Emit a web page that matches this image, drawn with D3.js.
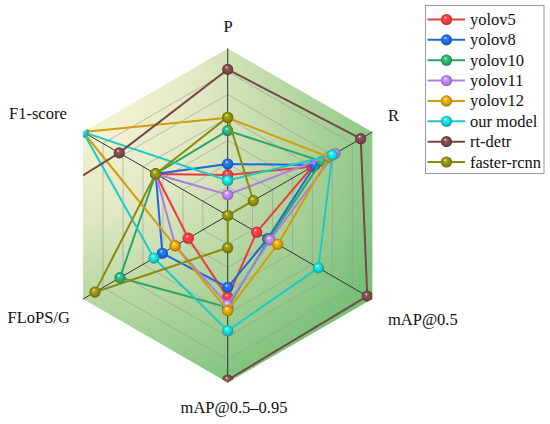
<!DOCTYPE html>
<html>
<head>
<meta charset="utf-8">
<script src="https://cdn.jsdelivr.net/npm/d3@7"></script>
<style>
  html, body { margin: 0; padding: 0; background: #fff; }
  svg { display: block; }
  text { font-family: "Liberation Serif", "Times New Roman", serif; fill: #111; }
</style>
</head>
<body>
<svg id="chart" width="550" height="424"></svg>
<script>
// ---- data (normalized to the radar's outer ring) ----
const axes = ["P", "R", "mAP@0.5", "mAP@0.5\u20130.95", "FLoPS/G", "F1-score"];
const seriesNames = ["yolov5", "yolov8", "yolov10", "yolov11", "yolov12", "our model", "rt-detr", "faster-rcnn"];
const yolov5     = [0.243, 0.585, 0.200, 0.490, 0.272, 0.498];
const yolov8     = [0.308, 0.604, 0.277, 0.430, 0.452, 0.498];
const yolov10    = [0.508, 0.650, 0.285, 0.550, 0.745, 0.498];
const yolov11    = [0.124, 0.742, 0.293, 0.535, 0.362, 0.498];
const yolov12    = [0.585, 0.700, 0.346, 0.570, 0.364, 1.000];
const ourModel   = [0.210, 0.723, 0.627, 0.690, 0.510, 1.000];
const rtDetr     = [0.875, 0.920, 0.965, 0.985, 20.0, 0.750];
const fasterRcnn = [0.588, 0.177, 0.000, 0.193, 0.918, 0.498];
const seriesValues = [yolov5, yolov8, yolov10, yolov11, yolov12, ourModel, rtDetr, fasterRcnn];
const colors = ["#ec3a3d", "#2166dc", "#2ba66a", "#b07ee3", "#d49b0c", "#1ccaca", "#774848", "#898a0e"];
const gridTicks = [0.172, 0.310, 0.448, 0.586, 0.724, 0.862, 1.0];

// ---- layout ----
const svg = d3.select("#chart");
const cx = 227.7, cy = 215.5, R = 167;
const rScale = d3.scaleLinear().domain([0, 1]).range([0, R]);
const angle = d3.scaleLinear().domain([0, axes.length]).range([-Math.PI / 2, 1.5 * Math.PI]);
const pt = (i, v) => [cx + rScale(v) * Math.cos(angle(i)), cy + rScale(v) * Math.sin(angle(i))];
const ring = v => axes.map((a, i) => pt(i, v));

const defs = svg.append("defs");
const bg = defs.append("radialGradient").attr("id", "bg")
  .attr("gradientUnits", "userSpaceOnUse")
  .attr("cx", 95).attr("cy", 105).attr("r", 320);
[[0, "#f8f5d6"], [0.35, "#dfe8c2"], [0.6, "#b9d8a3"], [0.85, "#92c98a"], [1, "#78c079"]]
  .forEach(([o, c]) => bg.append("stop").attr("offset", o).attr("stop-color", c));

defs.append("clipPath").attr("id", "hexclip")
  .append("polygon").attr("points", ring(1).map(p => p.join(",")).join(" "));

colors.forEach((c, k) => {
  const g = defs.append("radialGradient").attr("id", "ball" + k)
    .attr("cx", "50%").attr("cy", "50%").attr("r", "50%").attr("fx", "38%").attr("fy", "30%");
  g.append("stop").attr("offset", 0).attr("stop-color", "#ffffff");
  g.append("stop").attr("offset", 0.25).attr("stop-color", d3.color(c).brighter(0.6));
  g.append("stop").attr("offset", 0.7).attr("stop-color", c);
  g.append("stop").attr("offset", 1).attr("stop-color", d3.color(c).darker(0.8));
});

// background hexagon
svg.append("polygon").attr("points", ring(1).map(p => p.join(",")).join(" "))
  .attr("fill", "url(#bg)");

// grid rings
svg.append("g").selectAll("polygon").data(gridTicks.slice(0, -1)).join("polygon")
  .attr("points", v => ring(v).map(p => p.join(",")).join(" "))
  .attr("fill", "none").attr("stroke", "#9a9a9a").attr("stroke-opacity", 0.6).attr("stroke-width", 1);

// axis lines
svg.append("g").selectAll("line").data(axes).join("line")
  .attr("x1", cx).attr("y1", cy)
  .attr("x2", (d, i) => pt(i, 1)[0]).attr("y2", (d, i) => pt(i, 1)[1])
  .attr("stroke", "#333").attr("stroke-width", 1);

// series
const plot = svg.append("g").attr("clip-path", "url(#hexclip)");
const lineGen = d3.line().curve(d3.curveLinearClosed);
seriesValues.forEach((vals, k) => {
  const g = plot.append("g");
  g.append("path").attr("d", lineGen(vals.map((v, i) => pt(i, v))))
    .attr("fill", "none").attr("stroke", colors[k]).attr("stroke-width", 2);
  g.selectAll("circle").data(vals).join("circle")
    .attr("cx", (v, i) => pt(i, v)[0]).attr("cy", (v, i) => pt(i, v)[1])
    .attr("r", 5.6).attr("fill", "url(#ball" + k + ")");
});

// axis labels
const labelPos = [
  { x: 228, y: 32, anchor: "middle" },
  { x: 388, y: 121, anchor: "start" },
  { x: 388, y: 325, anchor: "start" },
  { x: 234, y: 413, anchor: "middle" },
  { x: 7.5, y: 323, anchor: "start" },
  { x: 9, y: 119, anchor: "start" }
];
svg.append("g").selectAll("text").data(axes).join("text")
  .attr("x", (d, i) => labelPos[i].x).attr("y", (d, i) => labelPos[i].y)
  .attr("text-anchor", (d, i) => labelPos[i].anchor)
  .attr("font-size", 16.5).text(d => d);

// legend
const lg = svg.append("g");
lg.append("rect").attr("x", 425.5).attr("y", 5.5).attr("width", 118.5).attr("height", 168)
  .attr("fill", "#fff").attr("stroke", "#9a9a9a").attr("stroke-width", 1);
const rowY = d3.scalePoint().domain(seriesNames).range([19.5, 162]);
seriesNames.forEach((n, k) => {
  const y = rowY(n);
  lg.append("line").attr("x1", 427.5).attr("x2", 465).attr("y1", y).attr("y2", y)
    .attr("stroke", colors[k]).attr("stroke-width", 2);
  lg.append("circle").attr("cx", 446.5).attr("cy", y).attr("r", 5.6).attr("fill", "url(#ball" + k + ")");
  lg.append("text").attr("x", 470).attr("y", y + 5.5).attr("font-size", 16.5).text(n);
});
</script>
</body>
</html>
